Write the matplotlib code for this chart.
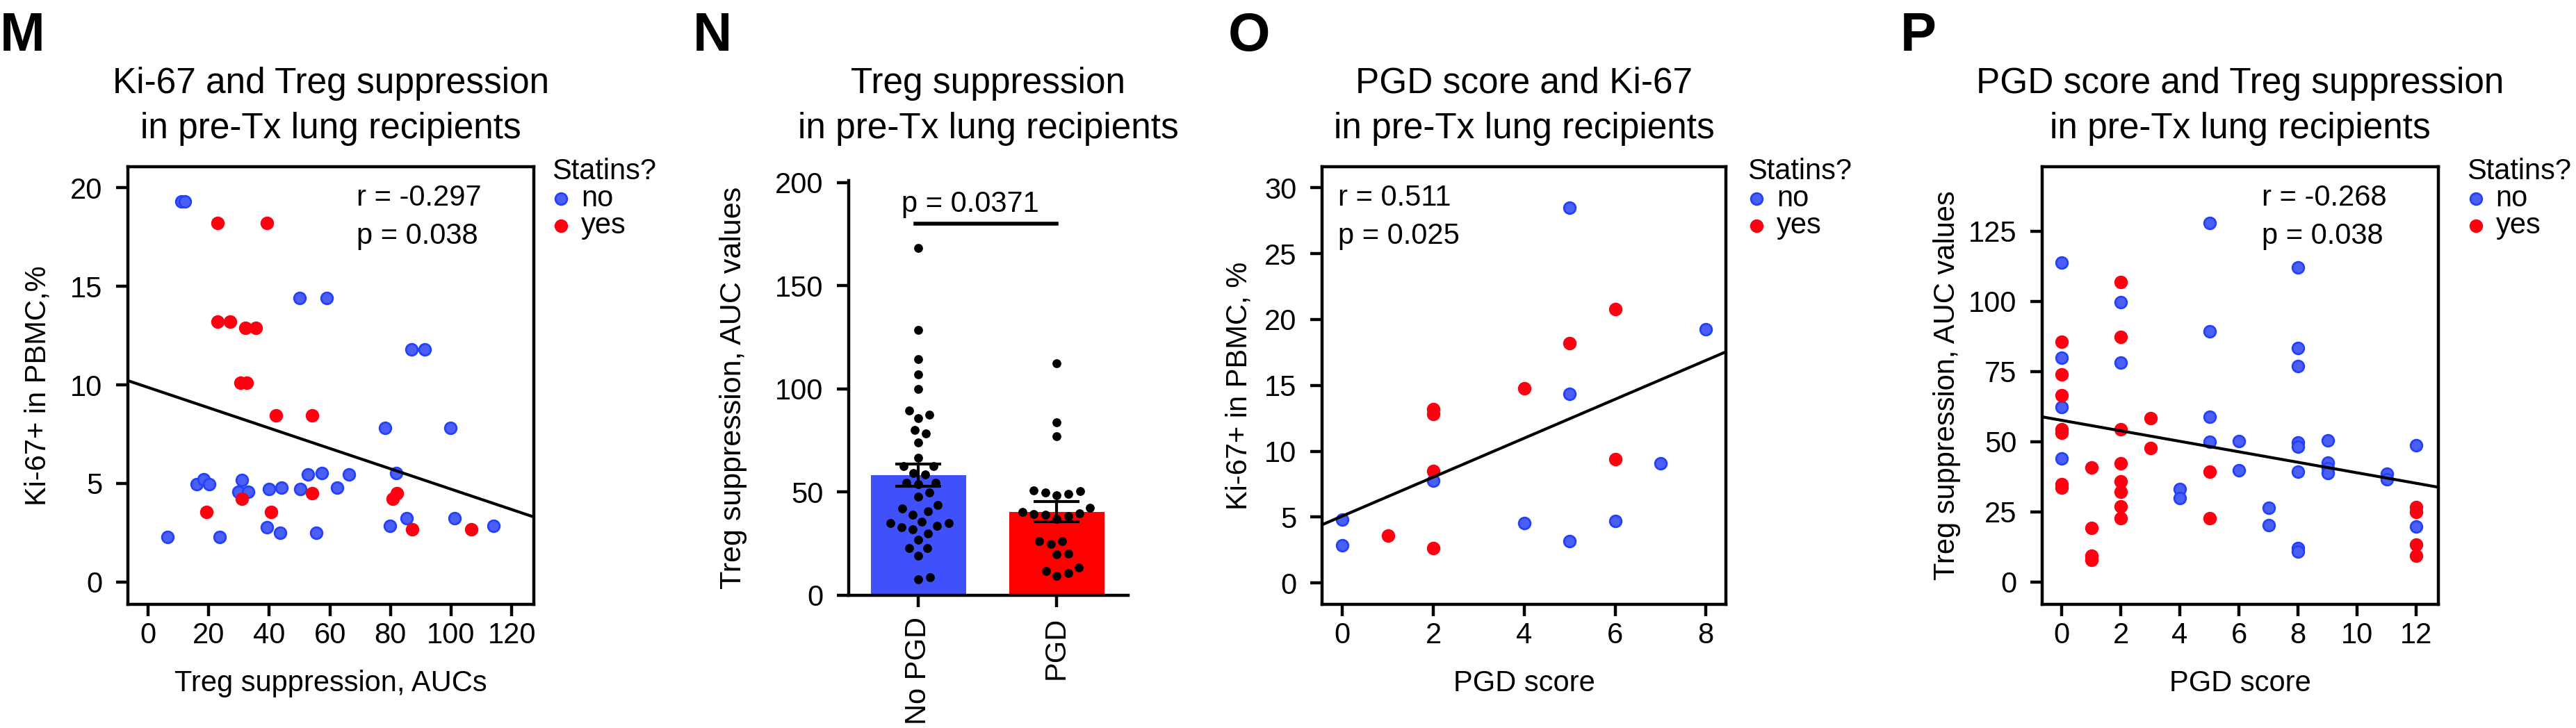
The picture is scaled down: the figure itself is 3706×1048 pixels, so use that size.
import numpy as np
import matplotlib.pyplot as plt

plt.rcParams['font.family'] = ['Liberation Sans', 'DejaVu Sans']
plt.rcParams['font.size'] = 30

# ---------------- data ----------------
# M: Ki-67 vs Treg suppression
m_no_x = [10.9, 12.1, 49.9, 58.9, 86.9, 91.4, 78.2, 99.7, 81.9, 16.0, 18.4, 20.3, 30.9, 29.9, 33.1,
          39.9, 44.0, 50.2, 52.8, 57.4, 62.5, 66.4, 85.3, 101.2, 39.3, 43.6, 55.6, 79.8, 6.4, 23.6, 114.1]
m_no_y = [19.3, 19.3, 14.4, 14.4, 11.8, 11.8, 7.8, 7.8, 5.54, 4.98, 5.21, 4.98, 5.19, 4.56, 4.56,
          4.72, 4.80, 4.72, 5.44, 5.54, 4.80, 5.44, 3.24, 3.24, 2.78, 2.51, 2.51, 2.84, 2.28, 2.28, 2.85]
m_yes_x = [22.9, 39.2, 22.9, 27.0, 32.0, 35.6, 30.6, 32.5, 42.1, 54.2, 30.9, 54.2, 82.1, 80.7,
           19.2, 40.6, 87.1, 106.7]
m_yes_y = [18.2, 18.2, 13.2, 13.2, 12.9, 12.9, 10.1, 10.1, 8.44, 8.44, 4.24, 4.51, 4.51, 4.24,
           3.57, 3.57, 2.69, 2.69]
m_fit = (9.87, -0.0516)          # intercept, slope
m_stats = ["r = -0.297", "p = 0.038"]

# N: Treg suppression by PGD
n_groups = ["No PGD", "PGD"]
n_mean = [58.2, 40.5]
n_sem = [5.5, 4.9]
n_nopgd = [168.4, 128.6, 114.5, 107.1, 100.0, 87.5, 85.9, 89.6, 80.1, 78.5, 74.1, 66.7, 62.6, 62.6,
           58.6, 59.3, 54.6, 54.6, 53.9, 49.8, 47.8, 43.8, 42.1, 40.7, 39.1, 35.7, 35.0, 35.0, 33.7,
           33.0, 32.0, 30.0, 26.9, 22.9, 22.9, 19.2, 7.7, 8.8]
n_pgd = [112.5, 83.8, 77.1, 50.8, 49.8, 48.5, 49.2, 50.5, 40.4, 39.4, 38.4, 37.0, 39.1, 39.7, 42.4,
         26.3, 26.3, 24.9, 20.2, 19.9, 11.8, 9.4, 10.8, 13.5]
n_pval = "p = 0.0371"

# O: PGD score vs Ki-67
o_no_x = [0, 0, 2, 4, 5, 5, 5, 6, 7, 8]
o_no_y = [4.81, 2.83, 7.78, 4.53, 28.48, 14.36, 3.18, 4.70, 9.09, 19.28]
o_yes_x = [1, 2, 2, 2, 2, 4, 5, 6, 6]
o_yes_y = [3.57, 13.19, 12.84, 8.49, 2.65, 14.79, 18.18, 20.80, 9.41]
o_fit = (5.08, 1.477)
o_stats = ["r = 0.511", "p = 0.025"]

# P: PGD score vs Treg suppression
p_no_x = [0, 0, 0, 0, 2, 2, 4, 4, 5, 5, 5, 5, 6, 6, 7, 7, 8, 8, 8, 8, 8, 8, 8, 8,
          9, 9, 9, 9, 11, 11, 12, 12]
p_no_y = [113.9, 79.8, 62.4, 43.9, 99.7, 78.1, 33.1, 30.0, 128.0, 89.4, 58.9, 50.0, 50.2, 39.9,
          26.5, 20.2, 112.1, 83.4, 77.0, 49.7, 48.2, 39.4, 12.1, 10.9, 50.5, 42.5, 40.6, 38.9,
          38.6, 36.6, 48.8, 19.7]
p_yes_x = [0, 0, 0, 0, 0, 0, 0, 1, 1, 1, 1, 2, 2, 2, 2, 2, 2, 2, 2, 3, 3, 5, 5, 12, 12, 12, 12]
p_yes_y = [85.6, 74.0, 66.6, 54.3, 53.1, 34.8, 33.6, 40.7, 19.2, 9.3, 7.9, 106.8, 87.3, 54.3,
           42.2, 35.8, 32.0, 27.0, 22.8, 58.4, 47.8, 39.2, 22.8, 26.7, 25.0, 13.4, 9.4]
p_fit = (57.6, -1.87)
p_stats = ["r = -0.268", "p = 0.038"]

statin_labels = ["no", "yes"]

# ---------------- styling ----------------
BLUE_FACE, BLUE_EDGE = "#4b5ff5", "#2340ff"
RED = "#fe0010"
BAR_BLUE, BAR_RED = "#4050fa", "#ff0000"
LW = 3.2

W, H = 3706, 1048
fig = plt.figure(figsize=(W / 100, H / 100), dpi=100)


def px_axes(l, t, r, b):
    return fig.add_axes([l / W, 1 - b / H, (r - l) / W, (b - t) / H])


def style_axes(ax, box=True):
    for side in ["top", "right"]:
        ax.spines[side].set_visible(box)
    for s in ax.spines.values():
        s.set_linewidth(LW)
    ax.tick_params(direction="out", length=12.2, width=LW, labelsize=30)
    ax.tick_params(axis="y", pad=14)
    ax.tick_params(axis="x", pad=6)


def title2(ax, line1, line2):
    pos = ax.get_position()
    xc = pos.x0 + pos.width / 2
    fig.text(xc, 1 - 134 / H, line1, ha="center", va="baseline", fontsize=37)
    fig.text(xc, 1 - 199 / H, line2, ha="center", va="baseline", fontsize=37)


def scatter_panel(ax, nx, ny, yx, yy, fit, stats, stat_x, legend_x):
    h_no = ax.scatter(nx, ny, s=144, facecolor=BLUE_FACE, edgecolor=BLUE_EDGE, linewidth=2, zorder=3)
    h_yes = ax.scatter(yx, yy, s=144, facecolor=RED, edgecolor=RED, linewidth=2, zorder=4)
    xl = np.array(ax.get_xlim())
    ax.plot(xl, fit[0] + fit[1] * xl, color="black", lw=3, zorder=5)
    ax.set_xlim(xl)
    ax.text(stat_x, 0.911, stats[0], transform=ax.transAxes, fontsize=30, va="baseline")
    ax.text(stat_x, 0.824, stats[1], transform=ax.transAxes, fontsize=30, va="baseline")
    leg = ax.legend([h_no, h_yes], statin_labels, title="Statins?", loc="upper left",
                    bbox_to_anchor=(legend_x, 1.021), frameon=False, fontsize=30, title_fontsize=30,
                    handlelength=0.6, handletextpad=0.4, labelspacing=-0.02, borderpad=0,
                    borderaxespad=0, alignment="left", scatterpoints=1)
    return leg


# ---------------- M ----------------
axM = px_axes(184, 240, 768, 870)
style_axes(axM)
axM.set_xlim(-6.65, 127.3)
axM.set_ylim(-1.13, 21.06)
axM.set_xticks([0, 20, 40, 60, 80, 100, 120])
axM.set_yticks([0, 5, 10, 15, 20])
scatter_panel(axM, m_no_x, m_no_y, m_yes_x, m_yes_y, m_fit, m_stats, 0.563, 1.045)
axM.set_xlabel("Treg suppression, AUCs", fontsize=30)
axM.set_ylabel("Ki-67+ in PBMC,%", fontsize=30)
axM.xaxis.set_label_coords(0.5, -0.149)
axM.yaxis.set_label_coords(-0.188, 0.5)
title2(axM, "Ki-67 and Treg suppression", "in pre-Tx lung recipients")

# ---------------- N ----------------
axN = px_axes(1221, 260, 1623, 857)
style_axes(axN, box=False)
axN.set_xlim(-0.503, 1.517)
axN.set_ylim(0, 201)
xpos = np.arange(len(n_groups))
axN.bar(xpos, n_mean, width=0.688, color=[BAR_BLUE, BAR_RED], zorder=1)


def swarm(ax, xc, vals, diam_px=17.0):
    trans = ax.transData
    ys = trans.transform(np.column_stack([np.full(len(vals), xc), vals]))[:, 1]
    offs = np.zeros(len(vals))
    placed = []
    for i in np.argsort(ys):
        y = ys[i]
        cands = [0.0]
        for xo, yo in placed:
            dy = abs(y - yo)
            if dy < diam_px:
                dx = np.sqrt(diam_px ** 2 - dy ** 2)
                cands += [xo + dx, xo - dx]
        cands.sort(key=abs)
        for c in cands:
            if all((c - xo) ** 2 + (y - yo) ** 2 >= diam_px ** 2 - 1e-6 for xo, yo in placed):
                offs[i] = c
                break
        placed.append((offs[i], y))
    ppu = trans.transform((1, 0))[0] - trans.transform((0, 0))[0]
    return xc + offs / ppu


for xc, vals in zip(xpos, [n_nopgd, n_pgd]):
    axN.scatter(swarm(axN, xc, vals), vals, s=85, color="black", linewidth=0, zorder=3)
axN.errorbar(xpos, n_mean, yerr=n_sem, fmt="none", ecolor="black", elinewidth=3,
             capsize=23.5, capthick=3, zorder=4)
axN.plot([-0.02, 1.0], [180, 180], color="black", lw=4, clip_on=False)
axN.text(0.377, 186, n_pval, ha="center", va="baseline", fontsize=30)
axN.set_yticks([0, 50, 100, 150, 200])
axN.set_xticks(xpos)
axN.set_xticklabels(n_groups, rotation=90)
axN.tick_params(axis="x", pad=10)
axN.set_ylabel("Treg suppression, AUC values", fontsize=31)
axN.yaxis.set_label_coords(-0.363, 0.5)
title2(axN, "Treg suppression", "in pre-Tx lung recipients")

# ---------------- O ----------------
axO = px_axes(1902, 240, 2483, 870)
style_axes(axO)
axO.set_xlim(-0.45, 8.44)
axO.set_ylim(-1.63, 31.6)
axO.set_xticks([0, 2, 4, 6, 8])
axO.set_yticks([0, 5, 10, 15, 20, 25, 30])
scatter_panel(axO, o_no_x, o_no_y, o_yes_x, o_yes_y, o_fit, o_stats, 0.04, 1.054)
axO.set_xlabel("PGD score", fontsize=30)
axO.set_ylabel("Ki-67+ in PBMC, %", fontsize=30)
axO.xaxis.set_label_coords(0.5, -0.149)
axO.yaxis.set_label_coords(-0.172, 0.5)
title2(axO, "PGD score and Ki-67", "in pre-Tx lung recipients")

# ---------------- P ----------------
axP = px_axes(2938, 240, 3508, 870)
style_axes(axP)
axP.set_xlim(-0.66, 12.75)
axP.set_ylim(-8.0, 148.0)
axP.set_xticks([0, 2, 4, 6, 8, 10, 12])
axP.set_yticks([0, 25, 50, 75, 100, 125])
scatter_panel(axP, p_no_x, p_no_y, p_yes_x, p_yes_y, p_fit, p_stats, 0.554, 1.072)
axP.set_xlabel("PGD score", fontsize=30)
axP.set_ylabel("Treg suppression, AUC values", fontsize=30)
axP.xaxis.set_label_coords(0.5, -0.149)
axP.yaxis.set_label_coords(-0.205, 0.5)
title2(axP, "PGD score and Treg suppression", "in pre-Tx lung recipients")

# panel letters
for letter, xpx in [("M", 0), ("N", 997), ("O", 1767), ("P", 2734)]:
    fig.text(xpx / W, 1 - 73 / H, letter, fontsize=56, fontweight="bold", ha="left", va="baseline")

fig.savefig("out.png", dpi=100)
